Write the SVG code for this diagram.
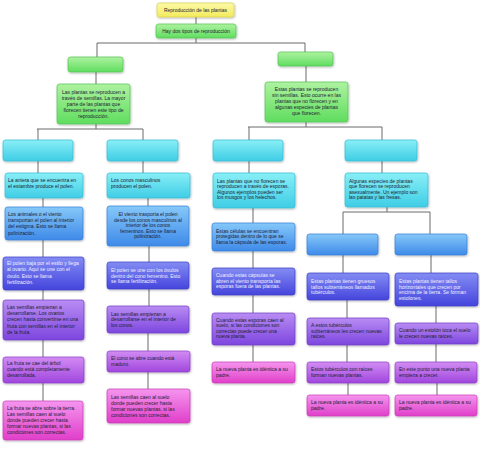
<svg xmlns="http://www.w3.org/2000/svg" width="480" height="450" viewBox="0 0 480 450">
<defs>
<linearGradient id="gY" x1="0" y1="0" x2="0" y2="1"><stop offset="0" stop-color="#fcf9a8"/><stop offset="1" stop-color="#f3eb5c"/></linearGradient>
<linearGradient id="gG" x1="0" y1="0" x2="0" y2="1"><stop offset="0" stop-color="#aef2a0"/><stop offset="1" stop-color="#5fdd5f"/></linearGradient>
<linearGradient id="gC" x1="0" y1="0" x2="0" y2="1"><stop offset="0" stop-color="#88eff6"/><stop offset="1" stop-color="#3fcde6"/></linearGradient>
<linearGradient id="gB" x1="0" y1="0" x2="0" y2="1"><stop offset="0" stop-color="#86c8f9"/><stop offset="1" stop-color="#3e8ae9"/></linearGradient>
<linearGradient id="gI" x1="0" y1="0" x2="0" y2="1"><stop offset="0" stop-color="#838cf3"/><stop offset="1" stop-color="#4545dd"/></linearGradient>
<linearGradient id="gP" x1="0" y1="0" x2="0" y2="1"><stop offset="0" stop-color="#b98cf3"/><stop offset="1" stop-color="#7d46df"/></linearGradient>
<linearGradient id="gV" x1="0" y1="0" x2="0" y2="1"><stop offset="0" stop-color="#d28cf3"/><stop offset="1" stop-color="#a046de"/></linearGradient>
<linearGradient id="gK" x1="0" y1="0" x2="0" y2="1"><stop offset="0" stop-color="#f595ee"/><stop offset="1" stop-color="#e03fc9"/></linearGradient>
<filter id="sh" x="-10%" y="-15%" width="125%" height="145%"><feDropShadow dx="0.6" dy="1" stdDeviation="0.8" flood-color="#000" flood-opacity="0.3"/></filter>
</defs>
<style>
rect{rx:2.5px;ry:2.5px;stroke-width:0.7;filter:url(#sh)}
.y{fill:url(#gY);stroke:#d9d04c}
.g{fill:url(#gG);stroke:#55c455}
.c{fill:url(#gC);stroke:#36bcd6}
.b{fill:url(#gB);stroke:#367ed6}
.i{fill:url(#gI);stroke:#3c3cc6}
.p{fill:url(#gP);stroke:#6e3cc6}
.v{fill:url(#gV);stroke:#8e3cc6}
.k{fill:url(#gK);stroke:#c83cb8}
text{font-family:"Liberation Sans",Arial,sans-serif;font-size:5px;fill:#1d2233}
.w{fill:#eef0ff}
.m{text-anchor:middle}
#conn path{fill:none;stroke:#6a6a6a;stroke-width:1}
</style>
<g id="conn">
<path d="M196 17V24M196 38V43M97 43H305M97 43V57M305 43V52"/>
<path d="M96 72V84M96 124V129M37 129H143M38 129V140M143 129V140"/>
<path d="M306 66V82M306 122V127M248 127H382M249 127V140M382 127V140"/>
<path d="M38 161V173M43 198V207M43 240V257M43 290V300M43 340V357M43 383V401"/>
<path d="M143 161V173M148 198V206M149 246V262M149 289V306M148 333V351M148 372V389"/>
<path d="M249 161V173M253 208V223M253 251V268M253 295V313M253 345V362"/>
<path d="M382 161V173M387 207V212M343 212H430M343 212V234M430 212V234"/>
<path d="M343 255V273M347 300V318M347 345V362M348 383V395"/>
<path d="M431 255V273M436 306V323M436 344V362M437 383V395"/>
</g>
<g id="n-root"><rect class="y" x="157" y="3" width="77" height="14"/><text class="m" x="195.5" y="12">Reproducción de las plantas</text></g>
<g id="n-tipos"><rect class="g" x="156" y="24" width="80" height="14"/><text class="m" x="196" y="33">Hay dos tipos de reproducción</text></g>
<g id="n-sex"><rect class="g" x="68" y="57" width="55" height="15"/></g>
<g id="n-sex-t"><rect class="g" x="57" y="84" width="73" height="40"/><text class="m"><tspan x="93.5" y="94">Las plantas se reproducen a</tspan><tspan x="93.5" y="100">través de semillas. La mayor</tspan><tspan x="93.5" y="106">parte de las plantas que</tspan><tspan x="93.5" y="112">florecen tienen este tipo de</tspan><tspan x="93.5" y="118">reproducción.</tspan></text></g>
<g id="n-asex"><rect class="g" x="278" y="52" width="55" height="14"/></g>
<g id="n-asex-t"><rect class="g" x="265" y="82" width="83" height="40"/><text class="m"><tspan x="306.5" y="91">Estas plantas se reproducen</tspan><tspan x="306.5" y="97">sin semillas. Esto ocurre en las</tspan><tspan x="306.5" y="103">plantas que no florecen y en</tspan><tspan x="306.5" y="109">algunas especies de plantas</tspan><tspan x="306.5" y="115">que florecen.</tspan></text></g>

<g id="c1-0"><rect class="c" x="3" y="140" width="70" height="21"/></g>
<g id="c1-1"><rect class="c" x="5" y="173" width="78" height="25"/><text><tspan x="8" y="182">La antera que se encuentra en</tspan><tspan x="8" y="188">el estambre produce el polen.</tspan></text></g>
<g id="c1-2"><rect class="b" x="5" y="207" width="78" height="33"/><text><tspan x="8" y="216">Los animales o el viento</tspan><tspan x="8" y="222">transportan el polen  al interior</tspan><tspan x="8" y="228">del estigma. Esto se llama</tspan><tspan x="8" y="234.5">polinización.</tspan></text></g>
<g id="c1-3"><rect class="i" x="3" y="257" width="81" height="33"/><text class="w"><tspan x="7" y="265">El polen baja por el estilo y llega</tspan><tspan x="7" y="271">al ovario. Aquí se une con el</tspan><tspan x="7" y="277.5">óvulo. Esto se llama</tspan><tspan x="7" y="284">fertilización.</tspan></text></g>
<g id="c1-4"><rect class="p" x="3" y="300" width="81" height="40"/><text><tspan x="7" y="309">Las semillas empiezan a</tspan><tspan x="7" y="315">desarrollarse. Los ovarios</tspan><tspan x="7" y="321">crecen hasta convertirse en una</tspan><tspan x="7" y="327.5">fruta con semillas en el interior</tspan><tspan x="7" y="333.5">de la fruta.</tspan></text></g>
<g id="c1-5"><rect class="v" x="3" y="357" width="81" height="26"/><text><tspan x="7" y="365">La fruta se cae del árbol</tspan><tspan x="7" y="371">cuando está completamente</tspan><tspan x="7" y="377">desarrollada.</tspan></text></g>
<g id="c1-6"><rect class="k" x="3" y="401" width="80" height="39"/><text><tspan x="7" y="410">La fruta se abre sobre la tierra.</tspan><tspan x="7" y="416">Las semillas caen al suelo</tspan><tspan x="7" y="422">donde pueden crecer hasta</tspan><tspan x="7" y="428">formar nuevas plantas, si las</tspan><tspan x="7" y="434">condiciones son correctas.</tspan></text></g>

<g id="c2-0"><rect class="c" x="107" y="140" width="71" height="21"/></g>
<g id="c2-1"><rect class="c" x="107" y="173" width="83" height="25"/><text><tspan x="111" y="182">Los conos masculinos</tspan><tspan x="111" y="188">producen el polen.</tspan></text></g>
<g id="c2-2"><rect class="b" x="107" y="206" width="82" height="40"/><text class="m"><tspan x="148" y="216">El viento trasporta el polen</tspan><tspan x="148" y="221.5">desde los conos masculinos al</tspan><tspan x="148" y="227">interior de los conos</tspan><tspan x="148" y="232.5">femeninos.  Esto se llama</tspan><tspan x="148" y="238">polinización.</tspan></text></g>
<g id="c2-3"><rect class="i" x="107" y="262" width="82" height="27"/><text class="w"><tspan x="111" y="272">El polen se une con los óvulos</tspan><tspan x="111" y="277.5">dentro del cono femenino. Esto</tspan><tspan x="111" y="283">se llama fertilización.</tspan></text></g>
<g id="c2-4"><rect class="p" x="107" y="306" width="82" height="27"/><text><tspan x="111" y="316">Las semillas empiezan a</tspan><tspan x="111" y="321">desarrollarse en el interior de</tspan><tspan x="111" y="326.5">los conos.</tspan></text></g>
<g id="c2-5"><rect class="v" x="107" y="351" width="83" height="21"/><text><tspan x="111" y="360">El cono se abre cuando está</tspan><tspan x="111" y="366">maduro.</tspan></text></g>
<g id="c2-6"><rect class="k" x="107" y="389" width="83" height="34"/><text><tspan x="111" y="398.5">Las semillas caen al suelo</tspan><tspan x="111" y="404.5">donde pueden crecer hasta</tspan><tspan x="111" y="410.5">formar nuevas plantas, si las</tspan><tspan x="111" y="416.5">condiciones son correctas.</tspan></text></g>

<g id="c3-0"><rect class="c" x="213" y="140" width="70" height="21"/></g>
<g id="c3-1"><rect class="c" x="213" y="173" width="82" height="35"/><text><tspan x="217" y="182.5">Las plantas que no florecen se</tspan><tspan x="217" y="188">reproducen a través de esporas.</tspan><tspan x="217" y="193.5">Algunos ejemplos pueden ser</tspan><tspan x="217" y="199">los musgos y los helechos.</tspan></text></g>
<g id="c3-2"><rect class="b" x="212" y="223" width="83" height="28"/><text><tspan x="216" y="232.5">Estas células se encuentran</tspan><tspan x="216" y="238">protegidas dentro de lo que se</tspan><tspan x="216" y="243.5">llama la cápsula de las esporas.</tspan></text></g>
<g id="c3-3"><rect class="i" x="212" y="268" width="83" height="27"/><text class="w"><tspan x="216" y="277">Cuando estas cápsulas se</tspan><tspan x="216" y="282.5">abren el viento transporta las</tspan><tspan x="216" y="288">esporas fuera de las plantas.</tspan></text></g>
<g id="c3-4"><rect class="p" x="212" y="313" width="83" height="32"/><text><tspan x="216" y="321.5">Cuando estas esporas caen al</tspan><tspan x="216" y="327">suelo, si las condiciones son</tspan><tspan x="216" y="332.5">correctas puede crecer una</tspan><tspan x="216" y="338">nueva planta.</tspan></text></g>
<g id="c3-5"><rect class="k" x="212" y="362" width="83" height="21"/><text><tspan x="216" y="371">La nueva planta es idéntica a su</tspan><tspan x="216" y="377">padre.</tspan></text></g>

<g id="c4-0"><rect class="c" x="345" y="140" width="72" height="21"/></g>
<g id="c4-1"><rect class="c" x="345" y="173" width="83" height="34"/><text><tspan x="349" y="182.5">Algunas especies de plantas</tspan><tspan x="349" y="188">que florecen se reproducen</tspan><tspan x="349" y="193.5">asexualmente. Un ejemplo son</tspan><tspan x="349" y="199">las patatas y las fresas.</tspan></text></g>

<g id="c4a-0"><rect class="b" x="307" y="234" width="71" height="21"/></g>
<g id="c4a-1"><rect class="i" x="307" y="273" width="82" height="27"/><text class="w"><tspan x="311" y="283">Estas plantas tienen gruesos</tspan><tspan x="311" y="288.5">tallos subterráneos llamados</tspan><tspan x="311" y="294">tubérculos.</tspan></text></g>
<g id="c4a-2"><rect class="p" x="307" y="318" width="82" height="27"/><text><tspan x="311" y="327">A estos tubérculos</tspan><tspan x="311" y="332.5">subterráneos les crecen nuevas</tspan><tspan x="311" y="338">raíces.</tspan></text></g>
<g id="c4a-3"><rect class="v" x="307" y="362" width="82" height="21"/><text><tspan x="311" y="371">Estos tubérculos con raíces</tspan><tspan x="311" y="376.5">forman nuevas plantas.</tspan></text></g>
<g id="c4a-4"><rect class="k" x="307" y="395" width="82" height="21"/><text><tspan x="311" y="404">La nueva planta es idéntica a su</tspan><tspan x="311" y="410">padre.</tspan></text></g>

<g id="c4b-0"><rect class="b" x="395" y="234" width="72" height="21"/></g>
<g id="c4b-1"><rect class="i" x="395" y="273" width="83" height="33"/><text class="w"><tspan x="399" y="283">Estas plantas tienen tallos</tspan><tspan x="399" y="288.5">horizontales que crecen por</tspan><tspan x="399" y="294">encima de la tierra. Se forman</tspan><tspan x="399" y="299.5">estolones.</tspan></text></g>
<g id="c4b-2"><rect class="p" x="395" y="323" width="83" height="21"/><text><tspan x="399" y="332">Cuando un estolón toca el suelo</tspan><tspan x="399" y="337.5">le crecen nuevas raíces.</tspan></text></g>
<g id="c4b-3"><rect class="v" x="395" y="362" width="82" height="21"/><text><tspan x="399" y="371">En este punto una nueva planta</tspan><tspan x="399" y="376.5">empieza a crecer.</tspan></text></g>
<g id="c4b-4"><rect class="k" x="395" y="395" width="82" height="21"/><text><tspan x="399" y="404">La nueva planta es idéntica a su</tspan><tspan x="399" y="410">padre.</tspan></text></g>
</svg>
